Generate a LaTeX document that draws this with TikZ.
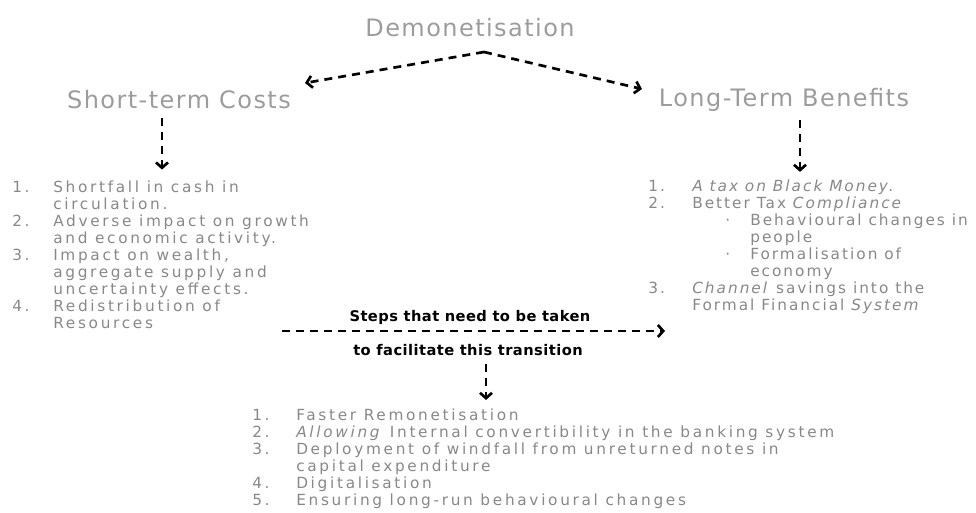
\documentclass[tikz,border=0pt]{standalone}
\usepackage{fontspec}
\setmainfont{DejaVu Sans}
\usetikzlibrary{arrows.meta}
\definecolor{headgray}{HTML}{9C9C9C}
\definecolor{listgray}{HTML}{888888}
\tikzset{
  head/.style={text=headgray, inner sep=0pt,
    font=\addfontfeature{LetterSpace=6}\fontsize{18}{21}\selectfont},
  list/.style={text=listgray, anchor=north west, inner sep=0pt,
    font=\addfontfeature{LetterSpace=17.5}\fontsize{11.5}{12.75}\selectfont},
  note/.style={inner sep=0pt,
    font=\bfseries\addfontfeature{LetterSpace=3}\fontsize{11}{12}\selectfont},
  flow/.style={line width=2pt, dash pattern=on 6pt off 4.5pt,
    -{Straight Barb[length=4pt,width=9pt,line width=2pt]}},
}
\newcommand{\bulletpt}{\makebox[43.5pt][l]{\hspace{24.75pt}·}}
\begin{document}
\begin{tikzpicture}[x=0.75pt,y=-0.75pt]
\useasboundingbox (0,0) rectangle (976,512);

% headings
\node[head] (demo) at (470,28) {Demonetisation};
\node[head] (cost) at (179,100) {Short-term Costs};
\node[head] (gain) at (784,100) {Long-Term Benefits};

\coordinate (apex) at (484,52);
\coordinate (costend) at (305,83);
\coordinate (gainend) at (642,89);
\draw[flow] (apex) -- (costend);
\draw[flow] (apex) -- (gainend);

% the two lists
\node[list] (costlist) at (12,180) {\begin{tabular}{@{}p{30.75pt}@{}l@{}}
1. & Shortfall in cash in\\
   & circulation.\\
2. & Adverse impact on growth\\
   & and economic activity.\\
3. & Impact on wealth,\\
   & aggregate supply and\\
   & uncertainty effects.\\
4. & Redistribution of\\
   & Resources
\end{tabular}};

\node[list, font=\addfontfeature{LetterSpace=13}\fontsize{11.5}{12.75}\selectfont]
  (gainlist) at (648,179) {\begin{tabular}{@{}p{33pt}@{}l@{}}
1. & \textit{A tax on Black Money.}\\
2. & Better Tax \textit{Compliance}\\
   & \bulletpt Behavioural changes in\\
   & \hspace{43.5pt}people\\
   & \bulletpt Formalisation of\\
   & \hspace{43.5pt}economy\\
3. & \textit{Channel} savings into the\\
   & Formal Financial \textit{System}
\end{tabular}};

\draw[flow] ([xshift=-12.75pt,yshift=-6pt]cost.south) -- ++(0,52);
\draw[flow] ([xshift=12pt,yshift=-6pt]gain.south) -- ++(0,52);

% transition
\node[note] (steps) at (470,317) {Steps that need to be taken};
\node[note] (trans) at (468,350) {to facilitate this transition};
\coordinate (hstart) at (282,331);
\coordinate (hend) at (665,331);
\draw[flow] (hstart) -- (hend);

\node[list] (steplist) at (252,408) {\begin{tabular}{@{}p{33pt}@{}l@{}}
1. & Faster Remonetisation\\
2. & \textit{Allowing} Internal convertibility in the banking system\\
3. & Deployment of windfall from unreturned notes in\\
   & capital expenditure\\
4. & Digitalisation\\
5. & Ensuring long-run behavioural changes
\end{tabular}};

\draw[flow] ([xshift=13.5pt,yshift=-6pt]trans.south) -- ++(0,36);
\end{tikzpicture}
\end{document}
